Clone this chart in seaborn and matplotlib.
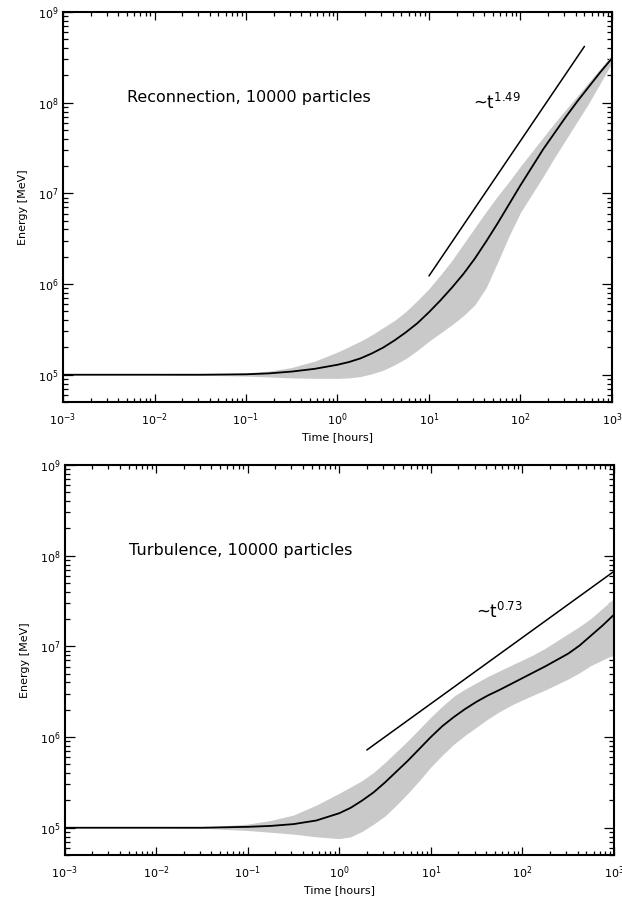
import numpy as np
import pandas as pd
import seaborn as sns
import matplotlib.pyplot as plt
from matplotlib.ticker import LogLocator, NullFormatter

# time grid, log10(hours) -- same for both runs
log_t = [-3, -2, -1.5, -1, -0.75, -0.5, -0.25, 0,
         0.125, 0.25, 0.375, 0.5, 0.625, 0.75, 0.875, 1.0,
         1.125, 1.25, 1.375, 1.5, 1.625, 1.75, 1.875, 2.0,
         2.125, 2.25, 2.375, 2.5, 2.625, 2.75, 2.875, 3.0]

# log10(energy / MeV): mean and spread, reconnection run
rec_log_mean = [5.0, 5.0, 5.0, 5.005, 5.015, 5.035, 5.065, 5.11,
                5.14, 5.18, 5.235, 5.30, 5.38, 5.47, 5.57, 5.69,
                5.82, 5.96, 6.11, 6.28, 6.47, 6.67, 6.88, 7.09,
                7.29, 7.49, 7.67, 7.85, 8.02, 8.18, 8.34, 8.49]
rec_log_hi = [5.0, 5.0, 5.005, 5.02, 5.04, 5.08, 5.15, 5.25,
              5.31, 5.37, 5.44, 5.52, 5.60, 5.70, 5.82, 5.95,
              6.10, 6.26, 6.44, 6.62, 6.80, 6.97, 7.13, 7.30,
              7.46, 7.62, 7.78, 7.93, 8.08, 8.23, 8.38, 8.53]
rec_log_lo = [5.0, 5.0, 4.995, 4.985, 4.975, 4.965, 4.96, 4.96,
              4.965, 4.98, 5.01, 5.05, 5.11, 5.18, 5.27, 5.37,
              5.46, 5.55, 5.65, 5.77, 5.96, 6.24, 6.53, 6.79,
              6.99, 7.19, 7.40, 7.60, 7.80, 8.00, 8.22, 8.44]

# log10(energy / MeV): mean and spread, turbulence run
turb_log_mean = [5.0, 5.0, 5.0, 5.01, 5.02, 5.04, 5.08, 5.16,
                 5.22, 5.30, 5.39, 5.50, 5.62, 5.74, 5.87, 6.00,
                 6.12, 6.22, 6.31, 6.39, 6.46, 6.52, 6.585, 6.65,
                 6.715, 6.78, 6.85, 6.92, 7.01, 7.12, 7.23, 7.35]
turb_log_hi = [5.0, 5.0, 5.005, 5.04, 5.08, 5.14, 5.25, 5.38,
               5.45, 5.52, 5.61, 5.72, 5.84, 5.96, 6.09, 6.22,
               6.34, 6.45, 6.53, 6.60, 6.67, 6.73, 6.79, 6.85,
               6.91, 6.98, 7.06, 7.14, 7.22, 7.31, 7.42, 7.53]
turb_log_lo = [5.0, 5.0, 4.995, 4.97, 4.95, 4.93, 4.90, 4.88,
               4.90, 4.96, 5.04, 5.13, 5.25, 5.38, 5.52, 5.67,
               5.80, 5.92, 6.02, 6.11, 6.20, 6.28, 6.35, 6.41,
               6.465, 6.52, 6.58, 6.64, 6.71, 6.79, 6.85, 6.91]

# power-law guide lines: t start, t end [hours], energy at t start [MeV], index
rec_fit = (10.0, 500.0, 1.23e6, 1.49)
turb_fit = (2.0, 1000.0, 7.2e5, 0.73)

titles = ["Reconnection, 10000 particles", "Turbulence, 10000 particles"]
# where the ~t^k label sits (t [hours], E [MeV])
fit_label_pos = [(30, 1.0e8), (31, 2.4e7)]

sns.set_theme(style="ticks")
plt.rcParams['font.family'] = ['DejaVu Sans']
plt.rcParams['mathtext.default'] = 'regular'
plt.rcParams['text.color'] = 'black'
plt.rcParams['axes.labelcolor'] = 'black'
plt.rcParams['xtick.color'] = 'black'
plt.rcParams['ytick.color'] = 'black'

fig = plt.figure(figsize=(6.22, 8.99), dpi=100)
ax1 = fig.add_axes([0.1013, 0.5528, 0.8826, 0.4338])
ax2 = fig.add_axes([0.1037, 0.0489, 0.8834, 0.4338])

panels = [
    (ax1, rec_log_mean, rec_log_hi, rec_log_lo, rec_fit, titles[0], fit_label_pos[0]),
    (ax2, turb_log_mean, turb_log_hi, turb_log_lo, turb_fit, titles[1], fit_label_pos[1]),
]

for ax, lm, lh, ll, fit, title, lpos in panels:
    df = pd.DataFrame({"t": 10.0 ** np.array(log_t),
                       "mean": 10.0 ** np.array(lm),
                       "hi": 10.0 ** np.array(lh),
                       "lo": 10.0 ** np.array(ll)})
    ax.set_xscale("log")
    ax.set_yscale("log")
    ax.fill_between(df["t"], df["lo"], df["hi"], color="#c9c9c9", lw=0, zorder=1)
    sns.lineplot(data=df, x="t", y="mean", ax=ax, color="black", lw=1.3, zorder=3)

    t0, t1, e0, k = fit
    fit_df = pd.DataFrame({"t": [t0, t1], "e": [e0, e0 * (t1 / t0) ** k]})
    sns.lineplot(data=fit_df, x="t", y="e", ax=ax, color="black", lw=1.1, zorder=3)

    ax.text(lpos[0], lpos[1], "~t$^{%.2f}$" % k,
            fontsize=12, ha="left", va="center")
    ax.text(0.117, 0.782, title, transform=ax.transAxes, fontsize=11.5,
            ha="left", va="center")

    ax.set_xlim(1e-3, 1e3)
    ax.set_ylim(5e4, 1e9)
    ax.xaxis.set_major_locator(LogLocator(base=10, numticks=20))
    ax.xaxis.set_minor_locator(LogLocator(base=10, subs=np.arange(2, 10), numticks=20))
    ax.yaxis.set_major_locator(LogLocator(base=10, numticks=20))
    ax.yaxis.set_minor_locator(LogLocator(base=10, subs=np.arange(2, 10), numticks=20))
    ax.xaxis.set_minor_formatter(NullFormatter())
    ax.yaxis.set_minor_formatter(NullFormatter())

    ax.tick_params(which="both", direction="in", top=True, right=True,
                   color="black", width=0.9, labelsize=8)
    ax.tick_params(axis="x", which="major", length=5.5, pad=7)
    ax.tick_params(axis="x", which="minor", length=2.9)
    ax.tick_params(axis="y", which="major", length=7.2, pad=3)
    ax.tick_params(axis="y", which="minor", length=3.6)
    for s in ax.spines.values():
        s.set_linewidth(1.5)
        s.set_color("black")

    ax.set_xlabel("Time [hours]", fontsize=8, labelpad=3)
    ax.set_ylabel("Energy [MeV]", fontsize=8, labelpad=7)

fig.savefig("out.png", dpi=100)
